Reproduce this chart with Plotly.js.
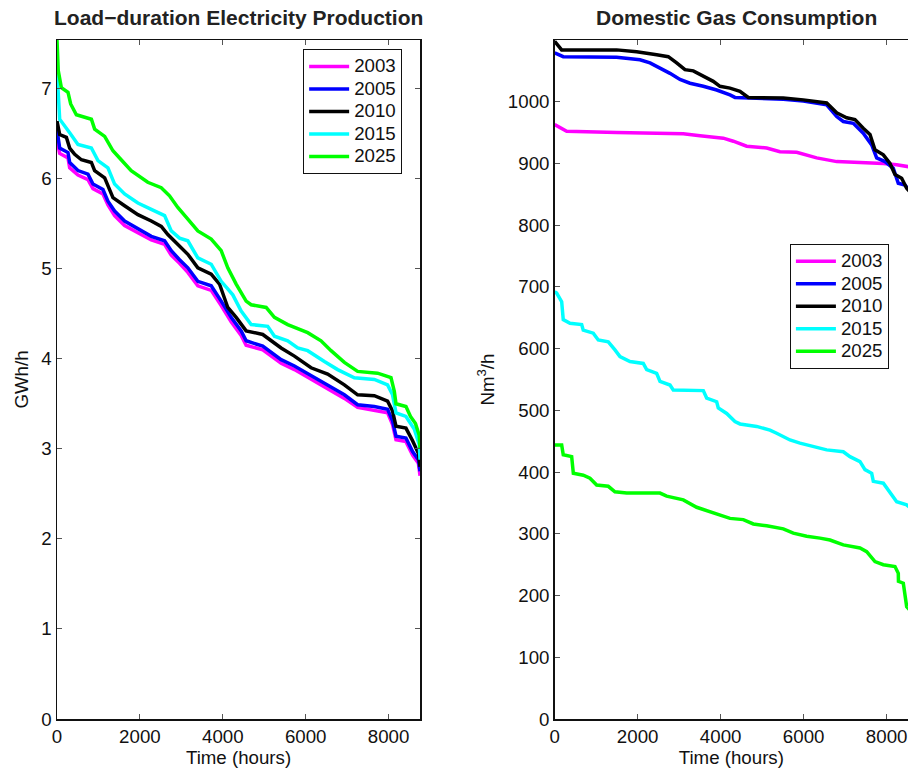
<!DOCTYPE html>
<html>
<head>
<meta charset="utf-8">
<script src="https://cdn.plot.ly/plotly-3.0.1.min.js"></script>
<style>
html,body{margin:0;padding:0;overflow:hidden;background:#fff;}
#chart{width:908px;height:771px;}
</style>
</head>
<body>
<div id="chart"></div>
<script>
// ---------- Data: Load-duration electricity production (GWh/h) ----------
const years = ['2003', '2005', '2010', '2015', '2025'];
const colors = ['#ff00ff', '#0000ff', '#000000', '#00ffff', '#00ff00'];

const elecHours2003 = [0, 65, 265, 306, 506, 747, 868, 1109, 1229, 1390, 1631, 1952, 2275, 2596, 2757, 2957, 3157, 3398, 3721, 3962, 4202, 4444, 4564, 4965, 5167, 5408, 5729, 6130, 6531, 6934, 7254, 7657, 7977, 8097, 8180, 8420, 8580, 8720, 8760];
const elec2003 = [6.43, 6.28, 6.23, 6.12, 6.04, 5.99, 5.89, 5.83, 5.71, 5.59, 5.48, 5.40, 5.32, 5.27, 5.15, 5.06, 4.96, 4.81, 4.76, 4.59, 4.41, 4.26, 4.15, 4.10, 4.03, 3.95, 3.88, 3.77, 3.67, 3.56, 3.46, 3.43, 3.40, 3.27, 3.10, 3.08, 2.93, 2.84, 2.70];

const elecHours2005 = [0, 65, 265, 306, 506, 747, 868, 1109, 1229, 1390, 1631, 1952, 2275, 2596, 2757, 2957, 3157, 3398, 3721, 3962, 4202, 4444, 4564, 4965, 5167, 5408, 5729, 6130, 6531, 6934, 7254, 7657, 7977, 8097, 8180, 8420, 8580, 8720, 8760];
const elec2005 = [6.54, 6.34, 6.29, 6.18, 6.09, 6.05, 5.94, 5.88, 5.75, 5.64, 5.53, 5.44, 5.36, 5.31, 5.20, 5.10, 5.01, 4.86, 4.81, 4.64, 4.46, 4.31, 4.20, 4.14, 4.07, 3.99, 3.92, 3.81, 3.71, 3.60, 3.49, 3.47, 3.44, 3.31, 3.14, 3.12, 2.97, 2.88, 2.75];

const elecHours2010 = [0, 65, 226, 306, 427, 588, 829, 908, 1150, 1350, 1631, 1952, 2275, 2516, 2675, 2957, 3157, 3398, 3721, 3921, 4121, 4323, 4564, 4965, 5167, 5408, 5729, 6130, 6531, 6934, 7254, 7657, 7977, 8097, 8180, 8420, 8580, 8720, 8760];
const elec2010 = [6.64, 6.49, 6.46, 6.34, 6.27, 6.21, 6.18, 6.09, 6.01, 5.79, 5.70, 5.60, 5.53, 5.47, 5.38, 5.25, 5.16, 5.01, 4.94, 4.83, 4.57, 4.46, 4.31, 4.27, 4.20, 4.12, 4.03, 3.90, 3.83, 3.71, 3.60, 3.59, 3.53, 3.42, 3.25, 3.23, 3.09, 2.95, 2.80];

const elecHours2015 = [0, 65, 306, 506, 829, 988, 1229, 1390, 1631, 1952, 2275, 2596, 2757, 2957, 3157, 3398, 3721, 3962, 4242, 4444, 4685, 5085, 5247, 5567, 5808, 6049, 6452, 6772, 7175, 7657, 7977, 8097, 8180, 8420, 8620, 8740, 8760];
const elec2015 = [7.20, 6.66, 6.51, 6.38, 6.34, 6.20, 6.12, 5.94, 5.83, 5.73, 5.66, 5.59, 5.42, 5.34, 5.31, 5.12, 5.05, 4.86, 4.71, 4.53, 4.38, 4.36, 4.25, 4.20, 4.12, 4.09, 3.97, 3.88, 3.79, 3.77, 3.71, 3.60, 3.40, 3.36, 3.22, 3.05, 2.88];

const elecHours2025 = [0, 30, 106, 265, 330, 467, 830, 908, 1150, 1350, 1510, 1790, 2190, 2515, 2715, 2915, 3157, 3398, 3721, 3962, 4121, 4323, 4564, 4685, 5046, 5247, 5567, 5808, 6049, 6371, 6613, 6934, 7254, 7736, 8059, 8139, 8180, 8420, 8530, 8650, 8740, 8760];
const elec2025 = [7.54, 7.20, 7.01, 6.96, 6.83, 6.71, 6.66, 6.55, 6.47, 6.31, 6.23, 6.09, 5.96, 5.90, 5.81, 5.68, 5.55, 5.42, 5.33, 5.20, 5.01, 4.83, 4.64, 4.60, 4.57, 4.46, 4.38, 4.33, 4.29, 4.20, 4.09, 3.96, 3.86, 3.84, 3.79, 3.64, 3.50, 3.47, 3.36, 3.28, 3.15, 3.00];

// ---------- Data: Domestic gas consumption (Nm3/h) ----------
const gasHours2003 = [0, 289, 1494, 2297, 3100, 3502, 4064, 4305, 4627, 5110, 5430, 5832, 6314, 6796, 7278, 7920, 8242, 8522, 8760];
const gas2003 = [963, 952, 950, 949, 948, 945, 941, 936, 928, 925, 919, 918, 909, 903, 902, 900, 898, 895, 892];

const gasHours2005 = [0, 207, 1494, 2056, 2297, 2538, 2779, 3020, 3261, 3582, 3904, 4225, 4345, 5510, 5992, 6555, 6796, 6956, 7197, 7437, 7640, 7760, 7960, 8161, 8281, 8442, 8600, 8760];
const gas2005 = [1079, 1073, 1072, 1068, 1063, 1055, 1046, 1036, 1030, 1025, 1019, 1011, 1007, 1004, 1001, 995, 976, 968, 965, 949, 930, 909, 903, 892, 868, 865, 852, 840];

const gasHours2010 = [0, 169, 1494, 1976, 2458, 2738, 2940, 3140, 3341, 3582, 3822, 3984, 4225, 4466, 4666, 5510, 5992, 6555, 6796, 7037, 7237, 7437, 7599, 7719, 7920, 8081, 8201, 8362, 8483, 8620, 8760];
const gas2010 = [1098, 1084, 1084, 1081, 1076, 1073, 1063, 1052, 1050, 1041, 1033, 1025, 1022, 1017, 1007, 1006, 1003, 998, 982, 974, 971, 957, 947, 922, 914, 900, 882, 876, 860, 850, 838];

const gasHours2015 = [0, 48, 169, 207, 369, 651, 689, 930, 1051, 1292, 1453, 1574, 1815, 2135, 2217, 2458, 2538, 2779, 2858, 3582, 3663, 3904, 3943, 4145, 4345, 4466, 4868, 5189, 5350, 5671, 5912, 6314, 6555, 6956, 7117, 7358, 7478, 7640, 7679, 7920, 8081, 8242, 8483, 8620, 8760];
const gas2015 = [692, 690, 676, 647, 641, 639, 630, 625, 614, 611, 598, 587, 579, 576, 566, 560, 547, 541, 533, 532, 520, 514, 504, 495, 482, 478, 474, 468, 463, 452, 447, 441, 436, 433, 425, 417, 404, 398, 385, 382, 368, 352, 347, 340, 332];

const gasHours2025 = [0, 169, 207, 410, 450, 690, 851, 1012, 1292, 1453, 1735, 2538, 2699, 3100, 3422, 3743, 3984, 4225, 4546, 4787, 5109, 5510, 5751, 6073, 6394, 6635, 6956, 7358, 7519, 7719, 7920, 8201, 8281, 8285, 8402, 8483, 8620, 8760];
const gas2025 = [444, 444, 428, 425, 398, 395, 390, 379, 377, 368, 366, 366, 361, 355, 343, 336, 331, 325, 323, 316, 313, 308, 301, 296, 293, 290, 282, 277, 271, 255, 250, 247, 236, 223, 220, 182, 172, 165];

// Tick labels
const xTicks = [0, 2000, 4000, 6000, 8000];
const elecYTicks = [0, 1, 2, 3, 4, 5, 6, 7];
const gasYTicks = [0, 100, 200, 300, 400, 500, 600, 700, 800, 900, 1000];

const leftTitle = 'Load\u2212duration Electricity Production';
const rightTitle = 'Domestic Gas Consumption';
const xTitle = 'Time (hours)';
const elecYTitle = 'GWh/h';
const gasYTitle = 'Nm<sup>3</sup>/h';

// ---------- Build traces ----------
const elecX = [elecHours2003, elecHours2005, elecHours2010, elecHours2015, elecHours2025];
const elecY = [elec2003, elec2005, elec2010, elec2015, elec2025];
const gasX = [gasHours2003, gasHours2005, gasHours2010, gasHours2015, gasHours2025];
const gasY = [gas2003, gas2005, gas2010, gas2015, gas2025];

const FONT = 'Liberation Sans, Arial, Helvetica, sans-serif';
const FS = 18.7;
const TXT = '#111';
const LW = 3.5;

function legendName(yr) {
  return '<span style="font-size:' + FS + 'px">' + yr + '</span>';
}

const traces = [];
years.forEach((yr, i) => {
  traces.push({
    type: 'scatter', mode: 'lines', name: legendName(yr),
    x: elecX[i], y: elecY[i], xaxis: 'x', yaxis: 'y',
    line: {color: colors[i], width: LW},
    legend: 'legend'
  });
});
years.forEach((yr, i) => {
  traces.push({
    type: 'scatter', mode: 'lines', name: legendName(yr),
    x: gasX[i], y: gasY[i], xaxis: 'x2', yaxis: 'y2',
    line: {color: colors[i], width: LW},
    legend: 'legend2'
  });
});

function axisBase() {
  return {
    ticks: 'inside', ticklen: 5, tickwidth: 1, tickcolor: '#555',
    showline: true, linecolor: '#111', linewidth: 1.5,
    showgrid: false, zeroline: false,
    tickfont: {family: FONT, size: FS, color: TXT},
    fixedrange: true
  };
}

const legendBase = {
  xanchor: 'left', yanchor: 'top',
  bgcolor: '#fff', bordercolor: '#111', borderwidth: 1.2,
  font: {family: FONT, size: 15, color: TXT}, tracegroupgap: 0,
  itemwidth: 40
};

const layout = {
  width: 908, height: 771,
  margin: {l: 57, r: 0, t: 40, b: 52},
  paper_bgcolor: '#fff', plot_bgcolor: '#fff',
  font: {family: FONT, size: FS, color: TXT},
  showlegend: true,
  xaxis: Object.assign(axisBase(), {
    domain: [0, 0.4266], range: [0, 8760], anchor: 'y',
    tickvals: xTicks, mirror: 'ticks',
    title: {text: xTitle, font: {family: FONT, size: FS, color: TXT}, standoff: 4}
  }),
  yaxis: Object.assign(axisBase(), {
    domain: [0, 1], range: [0, 7.54], anchor: 'x',
    tickvals: elecYTicks, mirror: 'ticks',
    title: {text: elecYTitle, font: {family: FONT, size: FS, color: TXT}, standoff: 8}
  }),
  xaxis2: Object.assign(axisBase(), {
    domain: [0.5848, 1], range: [0, 8515], anchor: 'y2',
    tickvals: xTicks, mirror: 'ticks',
    title: {text: xTitle, font: {family: FONT, size: FS, color: TXT}, standoff: 4}
  }),
  yaxis2: Object.assign(axisBase(), {
    domain: [0, 1], range: [0, 1100], anchor: 'x2',
    tickvals: gasYTicks, mirror: false,
    title: {text: gasYTitle, font: {family: FONT, size: FS, color: TXT}, standoff: 8}
  }),
  legend: Object.assign({}, legendBase, {x: 0.289, y: 0.9867}),
  legend2: Object.assign({}, legendBase, {x: 0.861, y: 0.700}),
  annotations: [
    {text: '<b>' + leftTitle + '</b>', xref: 'x', x: 4380, yref: 'paper', y: 1.0331,
     xanchor: 'center', yanchor: 'middle', showarrow: false,
     font: {family: FONT, size: 21, color: '#222'}},
    {text: '<b>' + rightTitle + '</b>', xref: 'x2', x: 4380, yref: 'paper', y: 1.0331,
     xanchor: 'center', yanchor: 'middle', showarrow: false,
     font: {family: FONT, size: 21, color: '#222'}}
  ]
};

Plotly.newPlot('chart', traces, layout, {displayModeBar: false, staticPlot: true});
</script>
</body>
</html>
